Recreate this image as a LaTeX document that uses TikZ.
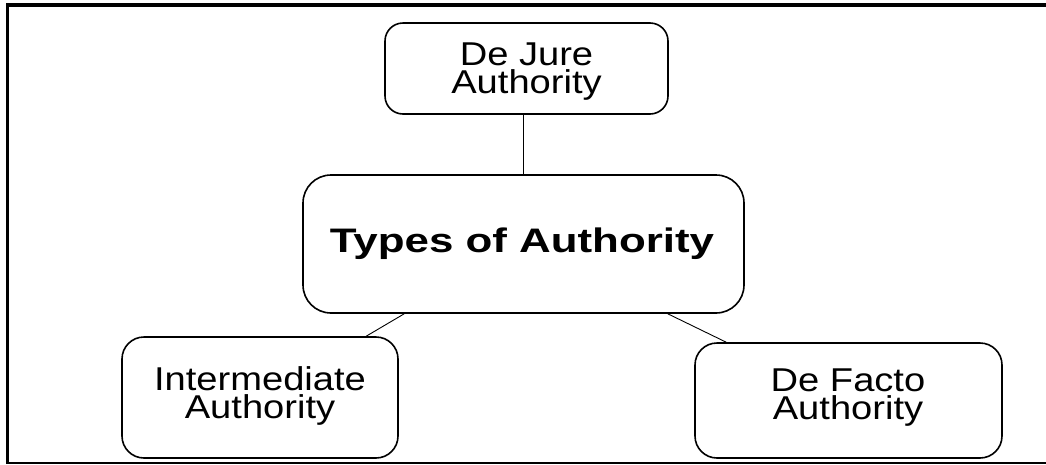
\documentclass[tikz,border=0pt]{standalone}
\usepackage{fontspec}
\setmainfont{Liberation Sans}
\usetikzlibrary{calc}
\begin{document}
\begin{tikzpicture}[x=1pt,y=-1pt,
  box/.style={draw=black, line width=1.6pt, rounded corners=#1, inner sep=0pt},
  lbl/.style={font=\fontsize{33}{28}\selectfont, inner sep=0pt, align=center, anchor=center},
  ttl/.style={font=\bfseries\fontsize{34}{34}\selectfont, inner sep=0pt, anchor=base},
  link/.style={draw=black, line width=0.9pt},
  frame/.style={draw=black}]
\useasboundingbox (0,0) rectangle (1046,464);
% frame
\draw[frame, line width=4pt] (6,5) -- (1046,5);
\draw[frame, line width=3.5pt] (7.5,3) -- (7.5,464);
\draw[frame, line width=2pt] (6,463) -- (1046,463);
% boxes
\node[box=18pt, minimum width=283pt, minimum height=91pt] (dj) at (526.5,68.5) {};
\node[box=28pt, minimum width=441pt, minimum height=138pt] (c) at (523.5,244) {};
\node[box=22pt, minimum width=276pt, minimum height=121pt] (im) at (260,397.5) {};
\node[box=22pt, minimum width=307pt, minimum height=115pt] (df) at (848.5,400.5) {};
% labels
\node[lbl] (djt) at (526.5,71.4) {\scalebox{1.155}[1]{De Jure}\\\scalebox{1.155}[1]{Authority}};
\node[ttl] (ct) at (522,252) {\scalebox{1.29}[1]{Types of Authority}};
\node[lbl] (imt) at (260,396.4) {\scalebox{1.155}[1]{Intermediate}\\\scalebox{1.155}[1]{Authority}};
\node[lbl] (dft) at (848,397.4) {\scalebox{1.155}[1]{De Facto}\\\scalebox{1.155}[1]{Authority}};
% connectors
\draw[link] (c.north |- dj.south) -- (c.north);
\draw[link] ($(c.south west)+(102,0)$) -- ($(im.north west)+(245,0)$);
\draw[link] ($(c.south east)+(-77,0)$) -- ($(df.north west)+(32,0)$);
\end{tikzpicture}
\end{document}
